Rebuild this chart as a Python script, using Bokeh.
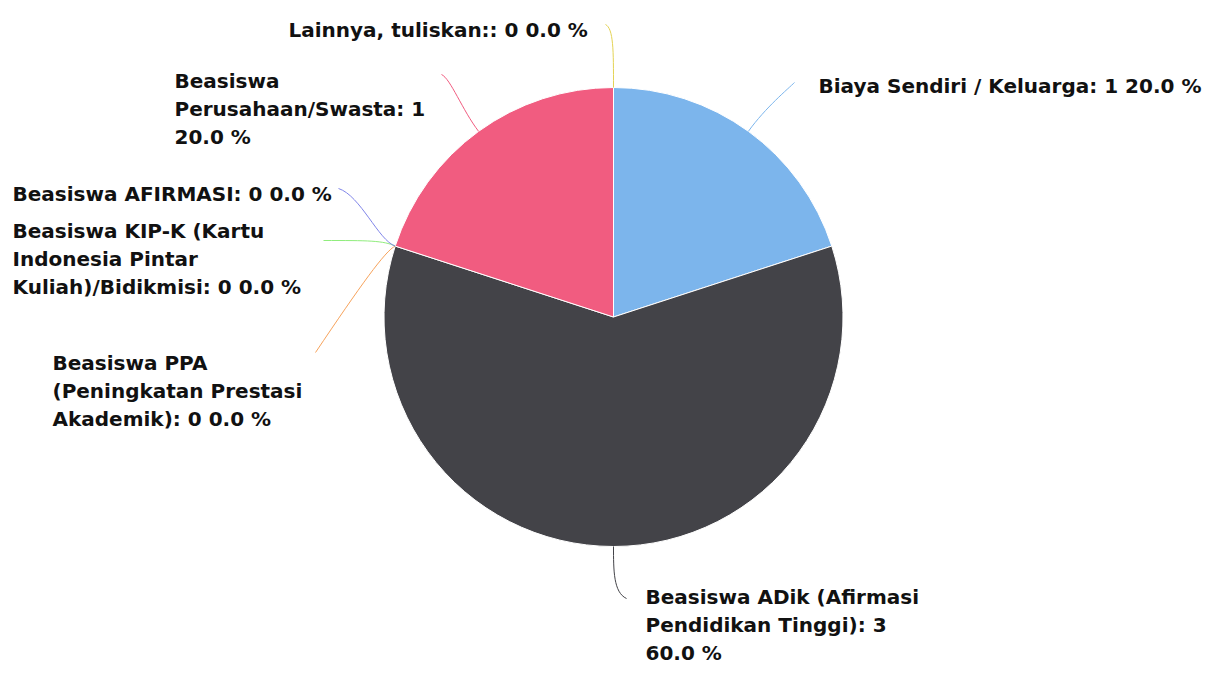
import math
from bokeh.plotting import figure
from bokeh.models import Range1d, ColumnDataSource
from bokeh.embed import file_html
from bokeh.resources import INLINE
from bokeh.core.properties import value

# ---------------- data ----------------
categories = [
    "Biaya Sendiri / Keluarga",
    "Beasiswa ADik (Afirmasi Pendidikan Tinggi)",
    "Beasiswa PPA (Peningkatan Prestasi Akademik)",
    "Beasiswa KIP-K (Kartu Indonesia Pintar Kuliah)/Bidikmisi",
    "Beasiswa AFIRMASI",
    "Beasiswa Perusahaan/Swasta",
    "Lainnya, tuliskan:",
]
counts = [1, 3, 0, 0, 0, 1, 0]
colors = ["#7cb5ec", "#434348", "#f7a35c", "#90ed7d", "#8085e9", "#f15c80", "#e4d354"]

# ---------------- layout (pixel coordinates from top-left) ----------------
W, H = 1202, 666
CX, CY, R = 613, 316.5, 229.5
label_left = [818, 645, 52, 12, 12, 174, 288]
label_base = [93, 604, 370, 238, 201, 88, 37]
wrap_chars = [40, 24, 22, 28, 40, 20, 40]
LINE_H = 28
TEXT_DY = -8  # renderer baseline correction
# connector control points / ends
conn_c0 = [(765, 107), (613, 570), (385, 250), (383, 240), (378, 240), (462, 110), (613, 50)]
conn_c1 = [(788, 88), (613, 592), (360, 285), (368, 240), (360, 195), (450, 78), (613, 28)]
conn_end = [(794, 82), (626, 598), (315, 352), (323, 240), (338, 188), (441, 74), (605, 24)]
FONT = "DejaVu Sans"
FONT_SIZE = "20px"


def fy(y_px):
    return H - y_px


total = sum(counts)
p = figure(width=W, height=H, output_backend="svg", toolbar_location=None,
           x_range=Range1d(0, W), y_range=Range1d(0, H),
           min_border=0)
p.axis.visible = False
p.grid.visible = False
p.outline_line_color = None
p.background_fill_color = "white"
p.border_fill_color = "white"

# slices (clockwise from top)
starts, ends, cols, mids = [], [], [], []
cum = 0.0
for c, col in zip(counts, colors):
    a0 = cum / total * 2 * math.pi
    cum += c
    a1 = cum / total * 2 * math.pi
    mids.append((a0 + a1) / 2)
    if c > 0:
        starts.append(math.pi / 2 - a1)
        ends.append(math.pi / 2 - a0)
        cols.append(col)

src = ColumnDataSource(dict(x=[CX] * len(starts), y=[fy(CY)] * len(starts),
                            s=starts, e=ends, c=cols))
p.wedge(x="x", y="y", radius=R, start_angle="s", end_angle="e", fill_color="c",
        line_color="white", line_width=1, source=src, direction="anticlock")

# connectors
for i, m in enumerate(mids):
    ex = CX + R * math.sin(m)
    ey = CY - R * math.cos(m)
    p.bezier(x0=[ex], y0=[fy(ey)], x1=[conn_end[i][0]], y1=[fy(conn_end[i][1])],
             cx0=[conn_c0[i][0]], cy0=[fy(conn_c0[i][1])],
             cx1=[conn_c1[i][0]], cy1=[fy(conn_c1[i][1])],
             line_color=colors[i], line_width=1)


def wrap(text, limit):
    words = text.split(" ")
    lines, cur = [], ""
    for w in words:
        cand = w if not cur else cur + " " + w
        if len(cand) <= limit or not cur:
            cur = cand
        else:
            lines.append(cur)
            cur = w
    lines.append(cur)
    return lines


tx, ty, tt = [], [], []
for i, (name, c) in enumerate(zip(categories, counts)):
    pct = c / total * 100
    label = f"{name}: {c} {pct:.1f} %"
    for j, line in enumerate(wrap(label, wrap_chars[i])):
        tx.append(label_left[i])
        ty.append(fy(label_base[i] + j * LINE_H + TEXT_DY))
        tt.append(line)

p.text(x=tx, y=ty, text=tt, text_font=value(FONT), text_font_size=FONT_SIZE,
       text_font_style="bold", text_color="#111111", text_align="left",
       text_baseline="alphabetic")

open("out.html", "w").write(file_html(p, INLINE))
